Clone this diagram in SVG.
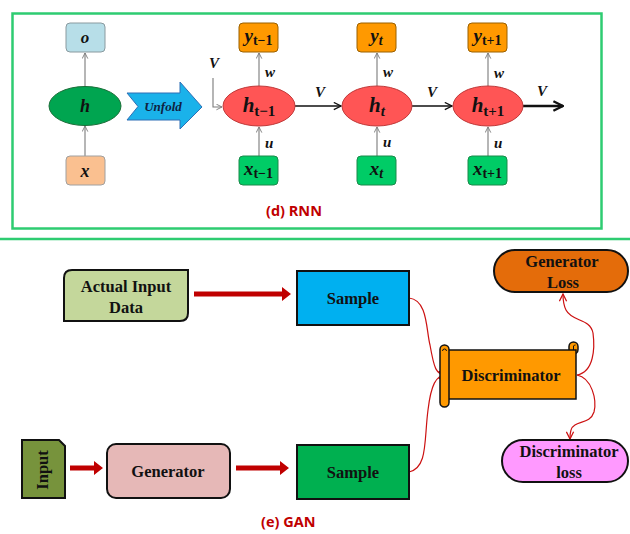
<svg xmlns="http://www.w3.org/2000/svg" width="630" height="534" viewBox="0 0 630 534">
  <defs>
    <style>
      .math { font-family: "Liberation Serif", "DejaVu Serif", serif; font-style: italic; font-weight: bold; fill: #111; }
      .sub { font-style: normal; }
      .lbl { font-family: "Liberation Serif", "DejaVu Serif", serif; font-style: italic; font-weight: bold; font-size: 15px; fill: #111; }
      .gan { font-family: "Liberation Serif", "DejaVu Serif", serif; font-weight: bold; font-size: 16.5px; fill: #111; text-anchor: middle; }
      .cap { font-family: "Open Sans", "Liberation Sans", sans-serif; font-weight: bold; font-size: 14.5px; fill: #c00000; }
      .thin { stroke: #7a7a7a; stroke-width: 1.1; fill: none; }
      .blk { stroke: #111; stroke-width: 1.3; fill: none; }
      .rcurve { stroke: #cc1111; stroke-width: 1.2; fill: none; }
      .redbar { fill: #c00000; }
      .box { stroke: #111; stroke-width: 2; }
    </style>
    <marker id="openGrey" viewBox="0 0 10 10" refX="9" refY="5" markerWidth="7" markerHeight="7" orient="auto" markerUnits="userSpaceOnUse">
      <path d="M1,1 L9,5 L1,9" fill="none" stroke="#7a7a7a" stroke-width="1.3"/>
    </marker>
    <marker id="openBlack" viewBox="0 0 10 10" refX="9" refY="5" markerWidth="9" markerHeight="9" orient="auto" markerUnits="userSpaceOnUse">
      <path d="M1,1 L9,5 L1,9" fill="none" stroke="#111" stroke-width="1.4"/>
    </marker>
    <marker id="openBlackBig" viewBox="0 0 10 10" refX="9" refY="5" markerWidth="12" markerHeight="12" orient="auto" markerUnits="userSpaceOnUse">
      <path d="M1,1 L9,5 L1,9" fill="none" stroke="#111" stroke-width="2"/>
    </marker>
    <marker id="openRed" viewBox="0 0 10 10" refX="9" refY="5" markerWidth="9" markerHeight="9" orient="auto" markerUnits="userSpaceOnUse">
      <path d="M1,1 L9,5 L1,9" fill="none" stroke="#cc1111" stroke-width="1.4"/>
    </marker>
  </defs>

  <rect width="630" height="534" fill="#ffffff"/>

  <!-- RNN panel frame and separator -->
  <rect x="12.5" y="13.5" width="589" height="215" fill="none" stroke="#2ecc71" stroke-width="2.5"/>
  <line x1="0" y1="239" x2="630" y2="239" stroke="#2ecc71" stroke-width="2.5"/>

  <!-- ===== RNN connectors ===== -->
  <g id="rnn-connectors">
    <line class="thin" x1="85" y1="87" x2="85" y2="53" marker-end="url(#openGrey)"/>
    <line class="thin" x1="85" y1="156" x2="85" y2="126" marker-end="url(#openGrey)"/>
    <path class="thin" d="M213,78 V107 H222" marker-end="url(#openGrey)"/>
    <line class="thin" x1="259" y1="86" x2="259" y2="53" marker-end="url(#openGrey)"/>
    <line class="thin" x1="259" y1="156" x2="259" y2="127" marker-end="url(#openGrey)"/>
    <line class="thin" x1="377" y1="86" x2="377" y2="53" marker-end="url(#openGrey)"/>
    <line class="thin" x1="377" y1="156" x2="377" y2="127" marker-end="url(#openGrey)"/>
    <line class="thin" x1="488" y1="86" x2="488" y2="53" marker-end="url(#openGrey)"/>
    <line class="thin" x1="488" y1="156" x2="488" y2="127" marker-end="url(#openGrey)"/>
    <line class="blk" x1="295" y1="106" x2="341" y2="106" marker-end="url(#openBlack)"/>
    <line class="blk" x1="412" y1="106" x2="452" y2="106" marker-end="url(#openBlack)"/>
    <line stroke="#111" stroke-width="2.6" x1="523" y1="106" x2="563" y2="106" marker-end="url(#openBlackBig)"/>
    <text class="lbl" x="209" y="68">V</text>
    <text class="lbl" x="315" y="97">V</text>
    <text class="lbl" x="427" y="97">V</text>
    <text class="lbl" x="537" y="96">V</text>
    <text class="lbl" x="265" y="77">w</text>
    <text class="lbl" x="265" y="148">u</text>
    <text class="lbl" x="383" y="77">w</text>
    <text class="lbl" x="383" y="147">u</text>
    <text class="lbl" x="494" y="78">w</text>
    <text class="lbl" x="494" y="148">u</text>
  </g>

  <!-- ===== RNN nodes ===== -->
  <g id="node-o">
    <rect x="66" y="23" width="39" height="29" rx="4" fill="#b7dee8" stroke="#8a9a9f" stroke-width="1"/>
    <text class="math" x="85" y="43" font-size="17" text-anchor="middle">o</text>
  </g>
  <g id="node-h">
    <ellipse cx="85" cy="106" rx="36" ry="19.5" fill="#00a550" stroke="#1a6e38" stroke-width="1"/>
    <text class="math" x="85" y="112" font-size="18" text-anchor="middle">h</text>
  </g>
  <g id="node-x">
    <rect x="66" y="156" width="39" height="29" rx="4" fill="#fac090" stroke="#a0a0a0" stroke-width="1"/>
    <text class="math" x="85" y="177" font-size="18" text-anchor="middle">x</text>
  </g>
  <g id="unfold">
    <path d="M127,93 H180 V82 L202,107 L180,129 V120 H127 L138,106.5 Z" fill="#1ab2ea" stroke="#2f6fb5" stroke-width="1"/>
    <text x="163" y="111" font-family="Liberation Serif, serif" font-style="italic" font-weight="bold" font-size="13" fill="#10213f" text-anchor="middle">Unfold</text>
  </g>

  <g id="node-h-prev">
    <ellipse cx="259" cy="106" rx="36" ry="20" fill="#ff5555" stroke="#c03a3a" stroke-width="1"/>
    <text class="math" x="259" y="112" font-size="21" text-anchor="middle">h<tspan class="sub" font-size="15" dy="4">t−1</tspan></text>
  </g>
  <g id="node-y-prev">
    <rect x="239" y="23" width="39" height="29" rx="4" fill="#ff9900" stroke="#9a6000" stroke-width="1"/>
    <text class="math" x="258.5" y="42" font-size="19" text-anchor="middle">y<tspan class="sub" font-size="14" dy="3">t−1</tspan></text>
  </g>
  <g id="node-x-prev">
    <rect x="239" y="156" width="39" height="29" rx="4" fill="#00cc66" stroke="#1a8a4a" stroke-width="1"/>
    <text class="math" x="258.5" y="175" font-size="19" text-anchor="middle">x<tspan class="sub" font-size="14" dy="3">t−1</tspan></text>
  </g>

  <g id="node-h-t">
    <ellipse cx="377" cy="106" rx="35" ry="20" fill="#ff5555" stroke="#c03a3a" stroke-width="1"/>
    <text class="math" x="377" y="112" font-size="21" text-anchor="middle">h<tspan font-size="15" dy="4">t</tspan></text>
  </g>
  <g id="node-y-t">
    <rect x="357" y="23" width="39" height="29" rx="4" fill="#ff9900" stroke="#9a6000" stroke-width="1"/>
    <text class="math" x="376.5" y="42" font-size="19" text-anchor="middle">y<tspan font-size="14" dy="3">t</tspan></text>
  </g>
  <g id="node-x-t">
    <rect x="357" y="156" width="39" height="29" rx="4" fill="#00cc66" stroke="#1a8a4a" stroke-width="1"/>
    <text class="math" x="376.5" y="175" font-size="19" text-anchor="middle">x<tspan font-size="14" dy="3">t</tspan></text>
  </g>

  <g id="node-h-next">
    <ellipse cx="488" cy="106" rx="35" ry="20" fill="#ff5555" stroke="#c03a3a" stroke-width="1"/>
    <text class="math" x="488" y="112" font-size="21" text-anchor="middle">h<tspan class="sub" font-size="15" dy="4">t+1</tspan></text>
  </g>
  <g id="node-y-next">
    <rect x="468" y="23" width="39" height="29" rx="4" fill="#ff9900" stroke="#9a6000" stroke-width="1"/>
    <text class="math" x="487.5" y="42" font-size="19" text-anchor="middle">y<tspan class="sub" font-size="14" dy="3">t+1</tspan></text>
  </g>
  <g id="node-x-next">
    <rect x="468" y="156" width="39" height="29" rx="4" fill="#00cc66" stroke="#1a8a4a" stroke-width="1"/>
    <text class="math" x="487.5" y="175" font-size="19" text-anchor="middle">x<tspan class="sub" font-size="14" dy="3">t+1</tspan></text>
  </g>

  <text class="cap" x="266" y="216">(d) RNN</text>

  <!-- ===== GAN connectors ===== -->
  <g id="gan-connectors">
    <path class="redbar" d="M194,291.5 H282 V287 L291,294 L282,301 V296.5 H194 Z"/>
    <path class="redbar" d="M70,465.5 H94 V461 L103,468 L94,475 V470.5 H70 Z"/>
    <path class="redbar" d="M236,465.5 H280 V461 L289,468 L280,475 V470.5 H236 Z"/>
    <path class="rcurve" d="M409,298 C428,300 426,330 430,345 C434,368 436,375 446,375" marker-end="url(#openRed)"/>
    <path class="rcurve" d="M409,472 C428,468 424,440 428,410 C431,385 436,375 446,375" marker-end="url(#openRed)"/>
    <path class="rcurve" d="M577,375 C594,372 595,348 593,333 C590,318 572,322 566,310 C563,304 563,300 563,294" marker-end="url(#openRed)"/>
    <path class="rcurve" d="M577,375 C592,378 597,400 594,412 C590,425 574,420 571,430 C570,433 570,436 570,439" marker-end="url(#openRed)"/>
  </g>

  <!-- ===== GAN nodes ===== -->
  <g id="actual-input">
    <path class="box" d="M72,270 H188 V313 Q188,321 180,321 H64 V278 Q64,270 72,270 Z" fill="#c4d79b"/>
    <text class="gan" x="126" y="292">Actual Input</text>
    <text class="gan" x="126" y="313">Data</text>
  </g>
  <g id="sample-real">
    <rect class="box" x="297" y="271" width="112" height="54" fill="#00b0f0"/>
    <text class="gan" x="353" y="304">Sample</text>
  </g>
  <g id="input">
    <path class="box" d="M22,440 H59 L65,446 V498 H22 Z" fill="#77933c"/>
    <text class="gan" transform="translate(48,470) rotate(-90)" x="0" y="0">Input</text>
  </g>
  <g id="generator">
    <rect class="box" x="107" y="444" width="123" height="54" rx="9" fill="#e6b8b7"/>
    <text class="gan" x="168" y="477">Generator</text>
  </g>
  <g id="sample-fake">
    <rect class="box" x="297" y="445" width="112" height="54" fill="#00b050"/>
    <text class="gan" x="353" y="478">Sample</text>
  </g>
  <g id="discriminator">
    <rect x="569" y="342" width="9" height="12" rx="4.5" fill="#ff9900" stroke="#111" stroke-width="1.5"/>
    <rect x="447" y="350" width="129" height="49" fill="#ff9900" stroke="#111" stroke-width="1.5"/>
    <path d="M573.5,350 V346 a2,2 0 0 1 2,-1" fill="none" stroke="#111" stroke-width="1"/>
    <rect x="440" y="345" width="9" height="62" rx="4.5" fill="#ff9900" stroke="#111" stroke-width="1.5"/>
    <path d="M442.5,351 a2,2 0 1 1 4,0" fill="none" stroke="#111" stroke-width="1"/>
    <text class="gan" x="511" y="381">Discriminator</text>
  </g>
  <g id="generator-loss">
    <rect class="box" x="494" y="250" width="134" height="42" rx="21" fill="#e46c0a"/>
    <text class="gan" x="562" y="267">Generator</text>
    <text class="gan" x="563" y="288">Loss</text>
  </g>
  <g id="discriminator-loss">
    <rect class="box" x="502" y="440" width="126" height="42" rx="21" fill="#ff99ff"/>
    <text class="gan" x="569" y="457">Discriminator</text>
    <text class="gan" x="569" y="478">loss</text>
  </g>

  <text class="cap" x="261" y="527">(e) GAN</text>
</svg>
